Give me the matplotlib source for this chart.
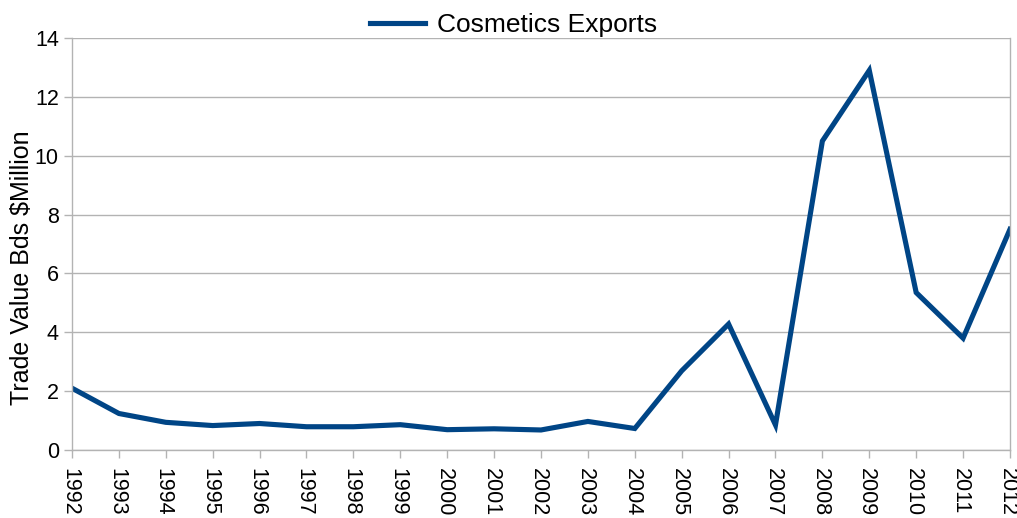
import numpy as np
import matplotlib.pyplot as plt

plt.rcParams['font.family'] = ['Liberation Sans', 'DejaVu Sans']

years = list(range(1992, 2013))
exports = [2.1, 1.24, 0.94, 0.83, 0.9, 0.79, 0.79, 0.86, 0.69, 0.72, 0.68,
           0.97, 0.73, 2.69, 4.28, 0.85, 10.5, 12.9, 5.35, 3.8, 7.5]

grid_col = "#b3b3b3"

fig = plt.figure(figsize=(10.17, 5.18), dpi=100)
ax = fig.add_axes([0.0708, 0.1313, 0.9223, 0.7953])

ax.plot(years, exports, color="#004586", linewidth=3.7,
        solid_joinstyle="miter", label="Cosmetics Exports")

ax.set_xlim(1992, 2012)
ax.set_ylim(0, 14)
ax.set_yticks(np.arange(0, 15, 2))
ax.set_xticks(years)
ax.set_xticklabels([str(y) for y in years], rotation=-90,
                   rotation_mode="anchor", ha="left", va="center_baseline")

ax.grid(axis="y", color=grid_col, linewidth=1)
ax.set_axisbelow(True)
for side in ["left", "bottom", "right"]:
    ax.spines[side].set_color(grid_col)
    ax.spines[side].set_linewidth(1)
ax.spines["top"].set_visible(False)
ax.tick_params(axis="both", colors=grid_col, labelcolor="black",
               labelsize=15.5, length=6, width=1)
ax.tick_params(axis="x", pad=7)

ax.set_ylabel("Trade Value Bds $Million", fontsize=18)
ax.yaxis.set_label_coords(-0.040, 0.442)

fig.legend(loc="upper center", bbox_to_anchor=(0.505, 1.0), frameon=False,
           fontsize=19, handlelength=2.1, handletextpad=0.45,
           borderaxespad=0.1)

fig.savefig("out.png", dpi=100)
